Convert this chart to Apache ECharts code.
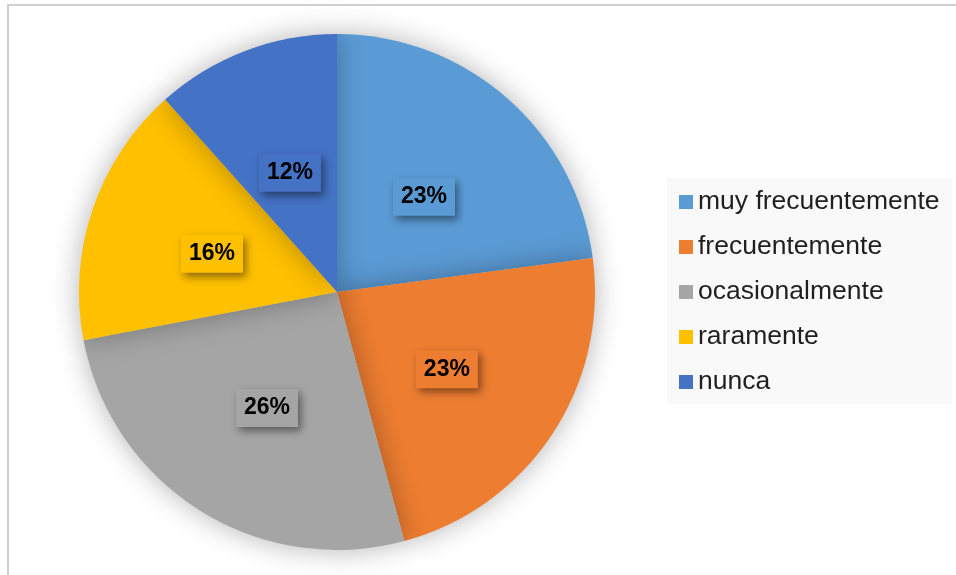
<!DOCTYPE html>
<html>
<head>
<meta charset="utf-8">
<script src="https://cdn.jsdelivr.net/npm/echarts@6/dist/echarts.min.js"></script>
<style>
html,body{margin:0;padding:0;background:#fff;}
#chart{width:956px;height:575px;position:absolute;left:0;top:0;}
#frame{position:absolute;left:7px;top:4px;width:949px;height:571px;border-left:2px solid #d0d0d0;border-top:2px solid #d0d0d0;box-sizing:border-box;pointer-events:none;}
</style>
</head>
<body>
<div id="chart"></div>
<div id="frame"></div>
<script>
var categories = ['muy frecuentemente', 'frecuentemente', 'ocasionalmente', 'raramente', 'nunca'];
var shares = [22.9, 22.9, 26.2, 16.4, 11.6];
var colors = ['#5B9BD5', '#ED7D31', '#A5A5A5', '#FFC000', '#4472C4'];

var chart = echarts.init(document.getElementById('chart'), null, {renderer: 'canvas'});
var data = categories.map(function (c, i) {
  return {name: c, value: shares[i], itemStyle: {color: colors[i]}};
});
chart.setOption({
  animation: false,
  legend: {
    orient: 'vertical',
    left: 667,
    top: 178,
    backgroundColor: '#f9f9f9',
    padding: [9, 13, 7, 12],
    itemWidth: 14,
    itemHeight: 14,
    itemGap: 15,
    icon: 'rect',
    textStyle: {
      fontFamily: 'Liberation Sans, Arial, sans-serif',
      fontSize: 26.5,
      color: '#1f1f1f',
      lineHeight: 30
    },
    data: categories
  },
  series: [{
    type: 'pie',
    center: [337, 292],
    radius: 258,
    startAngle: 90,
    clockwise: true,
    avoidLabelOverlap: false,
    itemStyle: {
      shadowBlur: 28,
      shadowColor: 'rgba(0,0,0,0.3)',
      shadowOffsetX: 0,
      shadowOffsetY: 0
    },
    label: {
      show: true,
      position: 'inside',
      offset: [0, 4],
      formatter: function (p) { return Math.round(p.percent) + '%'; },
      fontFamily: 'Liberation Sans, Arial, sans-serif',
      fontWeight: 'bold',
      fontSize: 23,
      color: '#000',
      backgroundColor: 'inherit',
      padding: [8, 8, 7, 8],
      shadowBlur: 8,
      shadowOffsetX: 3,
      shadowOffsetY: 4,
      shadowColor: 'rgba(0,0,0,0.45)'
    },
    labelLine: {show: false},
    emphasis: {disabled: true},
    data: data
  }]
});
</script>
</body>
</html>
